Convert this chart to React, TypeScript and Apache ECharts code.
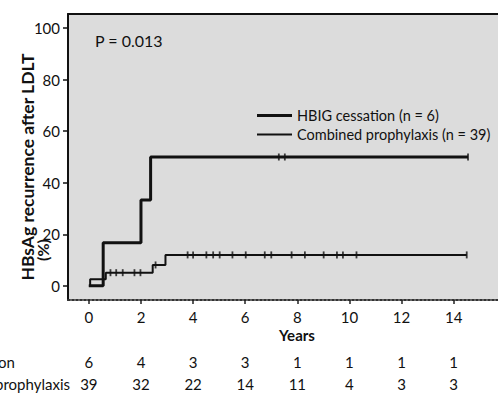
import React, { useEffect, useRef } from "react";
import * as echarts from "echarts";

// ---- Data ----
const xTicks = [0, 2, 4, 6, 8, 10, 12, 14];
const yTicks = [0, 20, 40, 60, 80, 100];

const hbigName = "HBIG cessation (n = 6)";
const combinedName = "Combined prophylaxis (n = 39)";

// Kaplan-Meier step points [years, % recurrence]
const hbigSteps: number[][] = [[0, 0], [0.55, 16.7], [2.0, 33.3], [2.37, 50.0], [14.55, 50.0]];
const combinedSteps: number[][] = [[0, 0], [0.05, 2.6], [0.65, 5.1], [2.45, 8.1], [2.94, 12.0], [14.5, 12.0]];

// censored observations (years)
const hbigCensor = [7.29, 7.52, 14.55];
const combinedCensor = [0.83, 1.05, 1.3, 1.75, 1.98, 2.56, 3.79, 4.0, 4.51, 4.77, 5.02, 5.51, 6.02, 6.75, 7.0, 7.78, 8.29, 9.01, 9.52, 9.75, 10.27, 14.5];

// numbers at risk
const riskLabels = ["HBIG cessation", "Combined prophylaxis"];
const hbigAtRisk = [6, 4, 3, 3, 1, 1, 1, 1];
const combinedAtRisk = [39, 32, 22, 14, 11, 4, 3, 3];

const FONT = "Lato, 'Open Sans', sans-serif";
const INK = "#111";

function levelAt(steps: number[][], t: number): number {
  let v = steps[0][1];
  for (const s of steps) if (s[0] <= t) v = s[1];
  return v;
}

export default function App() {
  const ref = useRef<HTMLDivElement>(null);
  useEffect(() => {
    if (!ref.current) return;
    const chart = echarts.init(ref.current, null, { renderer: "svg" });
    const baseX = {
      type: "value" as const,
      min: -0.8,
      max: 15.7,
      gridIndex: 0,
      splitLine: { show: false },
    };
    const countAxis = (arr: number[], margin: number) => ({
      ...baseX,
      position: "bottom" as const,
      axisLine: { show: false },
      axisTick: { show: false },
      axisLabel: {
        customValues: xTicks,
        margin,
        fontSize: 15,
        lineHeight: 16,
        color: INK,
        fontFamily: FONT,
        formatter: (v: number) => String(arr[xTicks.indexOf(v)] ?? ""),
      },
    });
    chart.setOption({
      animation: false,
      backgroundColor: "#ffffff",
      grid: {
        left: 68,
        top: 14,
        right: 0,
        bottom: 94,
        show: true,
        backgroundColor: "#dcdcdc",
        borderWidth: 0,
      },
      legend: {
        data: [
          { name: hbigName, icon: "path://M0,0H35V3H0Z" },
          { name: combinedName, icon: "path://M0,0H35V2H0Z" },
        ],
        orient: "vertical",
        left: 252,
        top: 103,
        padding: 5,
        itemWidth: 35,
        itemHeight: 14,
        itemGap: 4,
        symbolKeepAspect: true,
        itemStyle: { color: INK },
        textStyle: { fontSize: 14.5, lineHeight: 14, color: INK, fontFamily: FONT },
      },
      xAxis: [
        {
          ...baseX,
          position: "bottom",
          axisLine: { show: true, onZero: false, lineStyle: { color: "#333", type: "dotted", width: 2 } },
          axisTick: { show: true, customValues: xTicks, length: 4, lineStyle: { color: "#222", width: 1.5 } },
          axisLabel: { customValues: xTicks, margin: 9, fontSize: 15, lineHeight: 16, color: INK, fontFamily: FONT },
        },
        countAxis(hbigAtRisk, 54),
        countAxis(combinedAtRisk, 76),
        {
          ...baseX,
          position: "top",
          axisLine: { show: true, onZero: false, lineStyle: { color: "#111", width: 2 } },
          axisTick: { show: false },
          axisLabel: { show: false },
        },
      ],
      yAxis: {
        type: "value",
        min: -5.5,
        max: 105.5,
        splitLine: { show: false },
        axisLine: { show: true, onZero: false, lineStyle: { color: "#111", width: 2 } },
        axisTick: { show: true, customValues: yTicks, length: 5, lineStyle: { color: "#111", width: 1.5 } },
        axisLabel: { customValues: yTicks, margin: 8, fontSize: 15, color: INK, fontFamily: FONT },
      },
      series: [
        {
          name: combinedName,
          type: "line",
          step: "end",
          symbol: "none",
          data: combinedSteps,
          lineStyle: { color: INK, width: 2 },
          itemStyle: { color: INK },
          z: 3,
        },
        {
          name: hbigName,
          type: "line",
          step: "end",
          symbol: "none",
          data: hbigSteps,
          lineStyle: { color: INK, width: 3 },
          itemStyle: { color: INK },
          z: 4,
        },
        {
          name: "hbig-censor",
          type: "scatter",
          symbol: "rect",
          symbolSize: [1.8, 7],
          data: hbigCensor.map((t) => [t, levelAt(hbigSteps, t)]),
          itemStyle: { color: INK },
          z: 5,
        },
        {
          name: "combined-censor",
          type: "scatter",
          symbol: "rect",
          symbolSize: [1.8, 7],
          data: combinedCensor.map((t) => [t, levelAt(combinedSteps, t)]),
          itemStyle: { color: INK },
          z: 5,
        },
      ],
      graphic: [
        {
          type: "text",
          x: 95,
          y: 40,
          style: { text: "P = 0.013", fontSize: 16, fontFamily: FONT, fill: INK, align: "left", verticalAlign: "middle" },
        },
        {
          type: "text",
          x: 297,
          y: 335,
          style: { text: "Years", fontSize: 15, fontWeight: "bold", fontFamily: FONT, fill: INK, align: "center", verticalAlign: "middle" },
        },
        {
          type: "text",
          x: 27,
          y: 167,
          rotation: Math.PI / 2,
          style: { text: "HBsAg recurrence after LDLT", fontSize: 17.5, fontWeight: "bold", fontFamily: FONT, fill: INK, align: "center", verticalAlign: "middle" },
        },
        {
          type: "text",
          x: 42,
          y: 250,
          rotation: Math.PI / 2,
          style: { text: "(%)", fontSize: 16, fontWeight: "bold", fontFamily: FONT, fill: INK, align: "center", verticalAlign: "middle" },
        },
        {
          type: "text",
          x: 15,
          y: 362,
          style: { text: riskLabels[0], fontSize: 15, fontFamily: FONT, fill: INK, align: "right", verticalAlign: "middle" },
        },
        {
          type: "text",
          x: 70,
          y: 384,
          style: { text: riskLabels[1], fontSize: 15, fontFamily: FONT, fill: INK, align: "right", verticalAlign: "middle" },
        },
      ],
    });
    return () => chart.dispose();
  }, []);
  return (
    <div
      ref={ref}
      style={{ position: "fixed", left: 0, top: 0, width: 498, height: 394 }}
    />
  );
}
